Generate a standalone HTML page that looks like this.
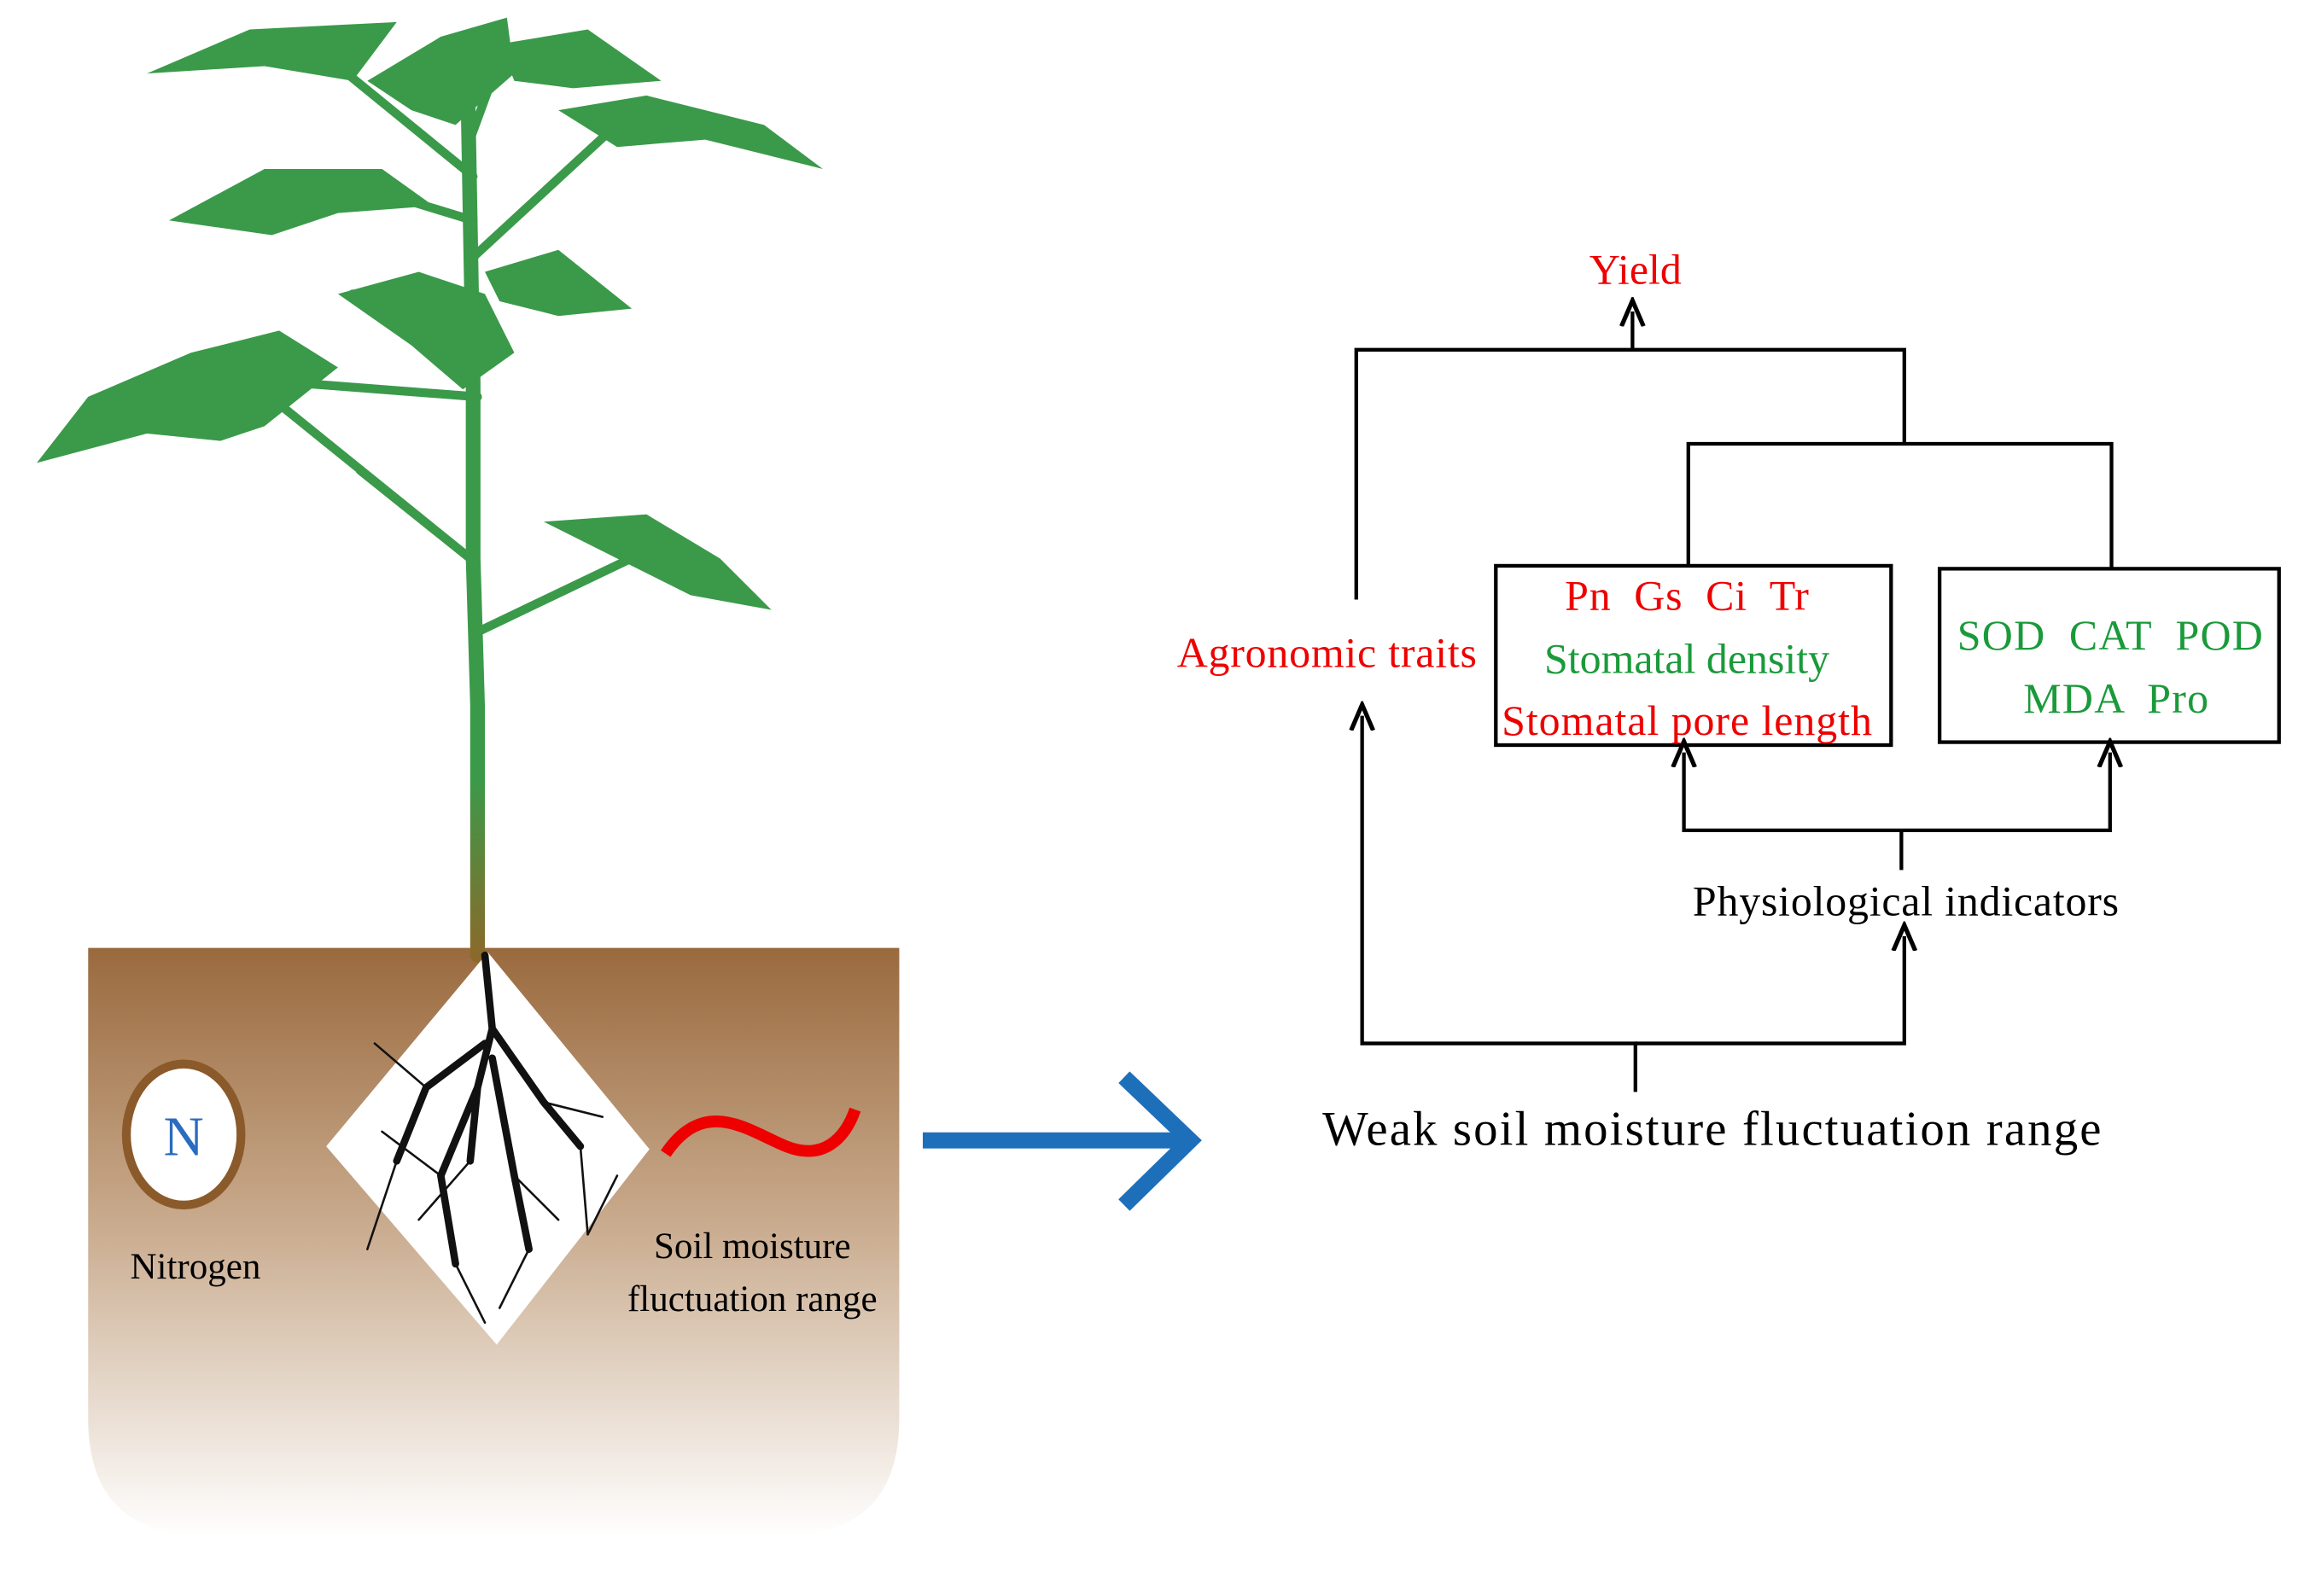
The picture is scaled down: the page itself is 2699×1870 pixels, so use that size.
<!DOCTYPE html>
<html><head><meta charset="utf-8"><style>html,body{margin:0;padding:0;background:#fff}svg{display:block}</style></head>
<body>
<svg width="2699" height="1870" viewBox="0 0 1568 1086" preserveAspectRatio="none" xmlns="http://www.w3.org/2000/svg">
<defs>
<linearGradient id="soil" x1="0" y1="0" x2="0" y2="1">
<stop offset="0" stop-color="#9a6a3e"/><stop offset="0.45" stop-color="#c7a88a"/><stop offset="1" stop-color="#ffffff"/>
</linearGradient>
<linearGradient id="stem" x1="0" y1="0" x2="0" y2="1">
<stop offset="0" stop-color="#3a9a4a"/><stop offset="0.8" stop-color="#3a9a4a"/><stop offset="1" stop-color="#8a6a2a"/>
</linearGradient>
<marker id="ah" markerWidth="8" markerHeight="8" refX="4" refY="4" orient="auto"><path d="M0,1 L7,4 L0,7" fill="none" stroke="#000" stroke-width="1.2"/></marker>
</defs>
<path d="M60,645 H612 V965 Q612,1045 532,1045 H140 Q60,1045 60,965 Z" fill="url(#soil)"/>
<g stroke="#3a9a4a" fill="none" stroke-linecap="round">
<path d="M325,650 L325,480 L322,380 L322,260 L320,150 L318,40" stroke="url(#stem)" stroke-width="10"/>
<path d="M322,120 L230,45 M322,150 L240,125 M322,175 L425,80 M325,220 L240,200 M325,270 L195,260 M320,380 L190,275 M320,380 L245,320 M325,430 L440,375 M318,100 L340,40" stroke-width="6"/>
</g>
<g fill="#3a9a4a">
<path d="M100,50 L170,20 L270,15 L240,55 L180,45 Z"/>
<path d="M250,55 L300,25 L345,12 L350,50 L310,85 L280,75 Z"/>
<path d="M340,30 L400,20 L450,55 L390,60 L350,55 Z"/>
<path d="M380,75 L440,65 L520,85 L560,115 L480,95 L420,100 Z"/>
<path d="M115,150 L180,115 L260,115 L295,140 L230,145 L185,160 Z"/>
<path d="M330,185 L380,170 L430,210 L380,215 L340,205 Z"/>
<path d="M230,200 L285,185 L330,200 L350,240 L315,265 L280,235 Z"/>
<path d="M25,315 L60,270 L130,240 L190,225 L230,250 L180,290 L150,300 L100,295 Z"/>
<path d="M370,355 L440,350 L490,380 L525,415 L470,405 L420,380 Z"/>
</g>
<polygon points="332,648 442,782 338,915 222,780" fill="#fff"/>
<g stroke="#111" fill="none" stroke-linecap="round">
<path d="M330,650 L335,700 L325,740 L320,790 M335,700 L370,750 L395,780 M330,710 L290,740 L270,790 M335,720 L350,800 L360,850 M325,740 L300,800 L310,860" stroke-width="5"/>
<path d="M290,740 L255,710 M370,750 L410,760 M320,790 L285,830 M395,780 L400,840 M270,790 L250,850 M350,800 L380,830 M300,800 L260,770 M360,850 L340,890 M310,860 L330,900 M400,840 L420,800" stroke-width="1.5"/>
</g>
<ellipse cx="125" cy="772" rx="39" ry="48" fill="#fff" stroke="#8b5a2b" stroke-width="6"/>
<text x="125" y="786" font-family="Liberation Serif,serif" font-size="38" fill="#2a6cc0" text-anchor="middle">N</text>
<text x="133" y="870" font-family="Liberation Serif,serif" font-size="25" text-anchor="middle">Nitrogen</text>
<path d="M453,785 C480,745 510,770 535,780 C560,790 575,775 582,755" stroke="#e00" stroke-width="8" fill="none"/>
<text x="512" y="856" font-family="Liberation Serif,serif" font-size="25" text-anchor="middle">Soil moisture</text>
<text x="512" y="892" font-family="Liberation Serif,serif" font-size="25" text-anchor="middle">fluctuation range</text>
<g stroke="#1e6fba" stroke-width="11" fill="none">
<line x1="628" y1="776" x2="810" y2="776"/>
<path d="M765,733 L810,776 L765,820"/>
</g>
<g stroke="#000" stroke-width="2.5" fill="none">
<path d="M923,408 V238 H1296 V302"/>
<line x1="1111" y1="238" x2="1111" y2="212" marker-end="url(#ah)"/>
<path d="M1149,385 V302 H1437 V387"/>
<rect x="1018" y="385" width="269" height="122"/>
<rect x="1320" y="387" width="231" height="118"/>
<path d="M1113,743 V710 H927 V487" marker-end="url(#ah)"/>
<path d="M1113,710 H1296 V637" marker-end="url(#ah)"/>
<line x1="1294" y1="592" x2="1294" y2="565"/>
<path d="M1294,565 H1146 V512" marker-end="url(#ah)"/>
<path d="M1294,565 H1436 V512" marker-end="url(#ah)"/>
</g>
<g font-family="Liberation Serif,serif" font-size="29" text-anchor="middle">
<text x="1113" y="193" fill="#e00">Yield</text>
<text x="903" y="454" fill="#e00" textLength="204">Agronomic traits</text>
<text x="1148" y="415" fill="#e00" textLength="166" xml:space="preserve">Pn  Gs  Ci  Tr</text>
<text x="1148" y="458" fill="#1a9a3a">Stomatal density</text>
<text x="1148" y="500" fill="#e00" textLength="252">Stomatal pore length</text>
<text x="1436" y="442" fill="#1a9a3a" textLength="208" xml:space="preserve">SOD  CAT  POD</text>
<text x="1440" y="485" fill="#1a9a3a" textLength="126" xml:space="preserve">MDA  Pro</text>
<text x="1297" y="623" fill="#000" textLength="290">Physiological indicators</text>
<text x="1165" y="779" fill="#000" font-size="33" textLength="530">Weak soil moisture fluctuation range</text>
</g>
</svg>
</body></html>
